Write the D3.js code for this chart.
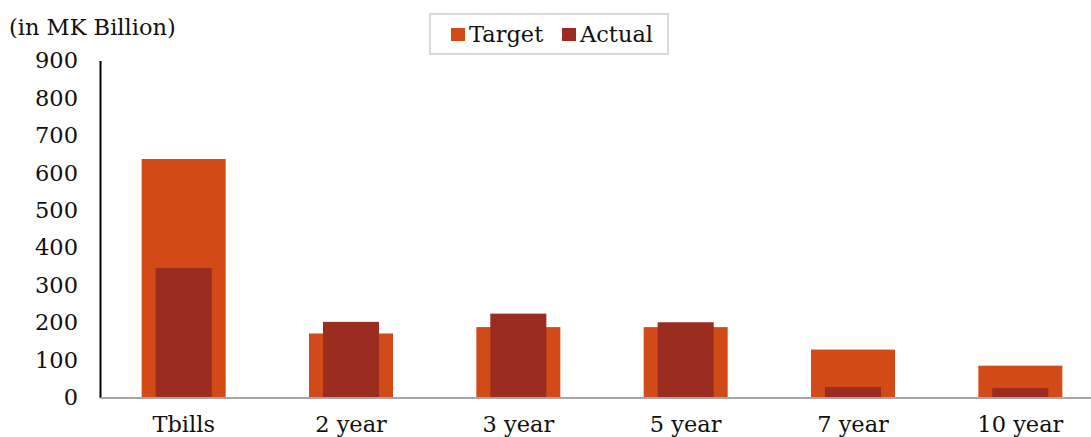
<!DOCTYPE html>
<html>
<head>
<meta charset="utf-8">
<script src="https://cdn.jsdelivr.net/npm/d3@7"></script>
<style>
  html, body { margin: 0; padding: 0; background: #fff; }
  svg { display: block; }
  text { font-family: "DejaVu Serif", "Liberation Serif", serif; fill: #111; }
</style>
</head>
<body>
<svg id="chart" width="1091" height="437"></svg>
<script>
// Government securities issuance, MK billion
const categories = ["Tbills", "2 year", "3 year", "5 year", "7 year", "10 year"];
const targetValues = [637, 171, 188, 188, 128, 85];
const actualValues = [346, 202, 224, 201, 28, 25];
const yTicks = [0, 100, 200, 300, 400, 500, 600, 700, 800, 900];
const seriesNames = ["Target", "Actual"];
const seriesColors = ["#d34a19", "#9b2c20"];

const fontSize = 22.5;
const svg = d3.select("#chart");
const margin = { left: 100, top: 60.5, bottom: 39.5 };
const plotRight = 1104;
const height = 437;

const x = d3.scaleBand().domain(categories).range([margin.left, plotRight]).paddingInner(0).paddingOuter(0);
const y = d3.scaleLinear().domain([0, 900]).range([height - margin.bottom, margin.top]);

const step = x.bandwidth();
const targetW = step * 0.502;
const actualW = step * 0.335;

// Target bars (wide, behind)
svg.append("g").selectAll("rect").data(categories).join("rect")
  .attr("x", (d) => x(d) + (step - targetW) / 2)
  .attr("y", (d, i) => y(targetValues[i]))
  .attr("width", targetW)
  .attr("height", (d, i) => y(0) - y(targetValues[i]))
  .attr("fill", seriesColors[0]);

// Actual bars (narrow, in front)
svg.append("g").selectAll("rect").data(categories).join("rect")
  .attr("x", (d) => x(d) + (step - actualW) / 2)
  .attr("y", (d, i) => y(actualValues[i]))
  .attr("width", actualW)
  .attr("height", (d, i) => y(0) - y(actualValues[i]))
  .attr("fill", seriesColors[1]);

// Y axis
const yAxis = svg.append("g").attr("transform", `translate(${margin.left},0)`)
  .call(d3.axisLeft(y).tickValues(yTicks).tickSize(0).tickPadding(22));
yAxis.select(".domain").attr("stroke", "#000").attr("stroke-width", 2);
yAxis.selectAll("text").attr("font-size", fontSize).attr("font-family", "DejaVu Serif").attr("fill", "#111");

// X axis
const xAxis = svg.append("g").attr("transform", `translate(0,${y(0)})`)
  .call(d3.axisBottom(x).tickSize(0).tickPadding(19));
xAxis.select(".domain").attr("stroke", "#a6a6a6").attr("stroke-width", 2);
xAxis.selectAll("text").attr("font-size", fontSize).attr("font-family", "DejaVu Serif").attr("fill", "#111");

// Unit label
svg.append("text").attr("x", 9).attr("y", 35).attr("font-size", fontSize).text("(in MK Billion)");

// Legend
const legend = svg.append("g");
legend.append("rect").attr("x", 430).attr("y", 14).attr("width", 238).attr("height", 40)
  .attr("fill", "#fff").attr("stroke", "#d9d9d9").attr("stroke-width", 2);
const legendX = [451, 562];
seriesNames.forEach((name, i) => {
  legend.append("rect").attr("x", legendX[i]).attr("y", 28).attr("width", 14).attr("height", 13)
    .attr("fill", seriesColors[i]);
  legend.append("text").attr("x", legendX[i] + 18).attr("y", 42).attr("font-size", fontSize).text(name);
});
</script>
</body>
</html>
